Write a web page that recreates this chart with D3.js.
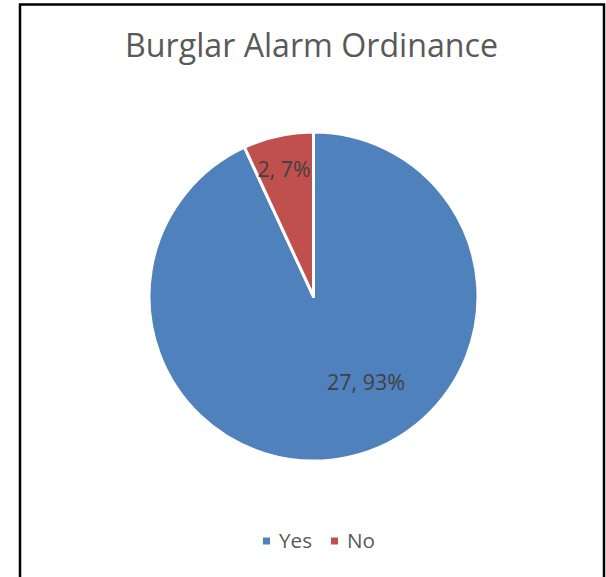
<!DOCTYPE html>
<html><head><meta charset="utf-8">
<script src="https://cdn.jsdelivr.net/npm/d3@7"></script>
<style>html,body{margin:0;padding:0;background:#fff;}svg{display:block;}</style>
</head><body>
<svg id="chart" width="606" height="577"></svg>
<script>
const categories = ["Yes", "No"];
const values = [27, 2];
const percents = ["93%", "7%"];
const colors = ["#4F81BD", "#C0504D"];
const titleText = "Burglar Alarm Ordinance";

const svg = d3.select("#chart");
svg.append("rect").attr("x", 20).attr("y", 4.5).attr("width", 584).attr("height", 580)
  .attr("fill", "#fff").attr("stroke", "#000").attr("stroke-width", 2.5);

const fontFam = "'Open Sans', 'Liberation Sans', sans-serif";
function fit(sel, size, target) {
  sel.attr("font-size", size);
  const w = sel.node().getComputedTextLength();
  sel.attr("font-size", size * target / w);
}
const title = svg.append("text").attr("x", 311.5).attr("y", 57).attr("text-anchor", "middle")
  .attr("font-family", fontFam).attr("fill", "#595959").text(titleText);
fit(title, 26, 373);

const cx = 313.5, cy = 296.5, R = 164.5;
const pie = d3.pie().sort(null).value(d => d)(values);
const arc = d3.arc().innerRadius(0).outerRadius(R);
const g = svg.append("g").attr("transform", `translate(${cx},${cy})`);
g.selectAll("path").data(pie).join("path")
  .attr("d", arc).attr("fill", (d, i) => colors[i])
  .attr("stroke", "#fff").attr("stroke-width", 3).attr("stroke-linejoin", "round");

const labelPos = [{a: 148.7, r: 101, w: 78}, {a: 346.9, r: 130, w: 53}];
g.selectAll("text.lbl").data(pie).join("text").attr("class", "lbl")
  .attr("x", (d, i) => labelPos[i].r * Math.sin(labelPos[i].a * Math.PI / 180))
  .attr("y", (d, i) => -labelPos[i].r * Math.cos(labelPos[i].a * Math.PI / 180))
  .attr("dy", "0.35em").attr("text-anchor", "middle")
  .attr("font-family", fontFam).attr("fill", "#404040")
  .text((d, i) => `${values[i]}, ${percents[i]}`)
  .each(function(d, i) { fit(d3.select(this), 18, labelPos[i].w); });

const leg = svg.append("g");
const items = [{x: 263, w: 33}, {x: 331, w: 28}];
categories.forEach((c, i) => {
  leg.append("rect").attr("x", items[i].x).attr("y", 537.5).attr("width", 7).attr("height", 7).attr("fill", colors[i]);
  const t = leg.append("text").attr("x", items[i].x + 16).attr("y", 541).attr("dy", "0.35em")
    .attr("font-family", fontFam).attr("fill", "#595959").text(c);
  fit(t, 17, items[i].w);
});
</script>
</body></html>
